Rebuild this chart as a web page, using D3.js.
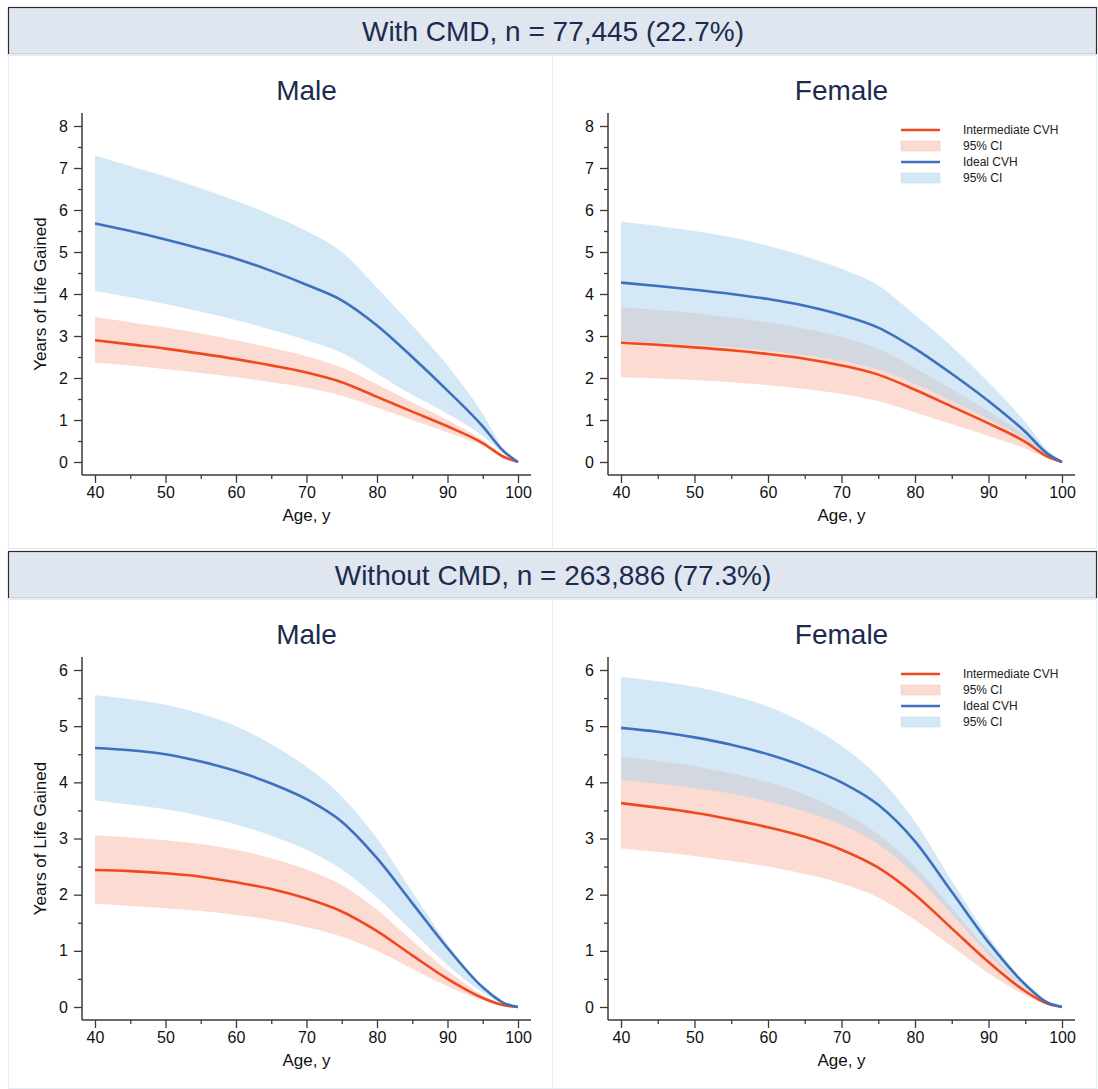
<!DOCTYPE html>
<html>
<head>
<meta charset="utf-8">
<script src="https://cdn.jsdelivr.net/npm/d3@7"></script>
<style>
  body { margin: 0; background: #fff; }
  text { font-family: "Liberation Sans", Arial, sans-serif; }
</style>
</head>
<body>
<div id="chart"></div>
<script>

var ages = [40, 45, 50, 55, 60, 65, 70, 75, 80, 85, 90, 95, 98, 100];

// With CMD - male
var cmdMaleIdeal   = [5.68, 5.50, 5.30, 5.08, 4.84, 4.55, 4.22, 3.85, 3.25, 2.50, 1.70, 0.85, 0.25, 0];
var cmdMaleIdealLo = [4.07, 3.92, 3.76, 3.58, 3.38, 3.15, 2.90, 2.60, 2.10, 1.60, 1.15, 0.62, 0.20, 0];
var cmdMaleIdealHi = [7.30, 7.05, 6.80, 6.52, 6.22, 5.88, 5.50, 5.00, 4.15, 3.25, 2.30, 1.15, 0.30, 0];
var cmdMaleInt     = [2.90, 2.80, 2.70, 2.58, 2.45, 2.30, 2.13, 1.90, 1.55, 1.20, 0.85, 0.45, 0.12, 0];
var cmdMaleIntLo   = [2.37, 2.30, 2.21, 2.12, 2.02, 1.90, 1.77, 1.58, 1.30, 1.00, 0.70, 0.38, 0.10, 0];
var cmdMaleIntHi   = [3.45, 3.33, 3.20, 3.06, 2.90, 2.72, 2.52, 2.25, 1.85, 1.42, 1.00, 0.52, 0.14, 0];

// With CMD - female
var cmdFemIdeal   = [4.27, 4.19, 4.10, 4.00, 3.88, 3.72, 3.50, 3.20, 2.70, 2.10, 1.45, 0.72, 0.20, 0];
var cmdFemIdealLo = [2.88, 2.84, 2.79, 2.73, 2.65, 2.55, 2.41, 2.20, 1.86, 1.45, 1.02, 0.54, 0.15, 0];
var cmdFemIdealHi = [5.72, 5.62, 5.50, 5.35, 5.15, 4.90, 4.60, 4.20, 3.50, 2.75, 1.90, 0.95, 0.28, 0];
var cmdFemInt     = [2.84, 2.79, 2.73, 2.66, 2.57, 2.46, 2.30, 2.08, 1.72, 1.32, 0.92, 0.48, 0.13, 0];
var cmdFemIntLo   = [2.02, 1.99, 1.95, 1.90, 1.83, 1.74, 1.62, 1.45, 1.18, 0.90, 0.62, 0.32, 0.09, 0];
var cmdFemIntHi   = [3.69, 3.62, 3.54, 3.44, 3.32, 3.17, 2.97, 2.69, 2.24, 1.74, 1.21, 0.63, 0.17, 0];

// Without CMD - male
var noMaleIdeal   = [4.61, 4.57, 4.50, 4.37, 4.20, 3.98, 3.70, 3.30, 2.65, 1.85, 1.05, 0.35, 0.07, 0];
var noMaleIdealLo = [3.68, 3.60, 3.52, 3.40, 3.25, 3.05, 2.80, 2.45, 1.95, 1.35, 0.75, 0.26, 0.05, 0];
var noMaleIdealHi = [5.55, 5.48, 5.38, 5.22, 5.00, 4.68, 4.28, 3.75, 3.00, 2.05, 1.12, 0.38, 0.08, 0];
var noMaleInt     = [2.44, 2.42, 2.38, 2.32, 2.22, 2.10, 1.93, 1.70, 1.35, 0.92, 0.50, 0.16, 0.03, 0];
var noMaleIntLo   = [1.84, 1.80, 1.76, 1.71, 1.64, 1.55, 1.42, 1.25, 1.00, 0.68, 0.37, 0.12, 0.02, 0];
var noMaleIntHi   = [3.06, 3.02, 2.97, 2.90, 2.80, 2.65, 2.45, 2.17, 1.73, 1.18, 0.65, 0.21, 0.04, 0];

// Without CMD - female
var noFemIdeal   = [4.97, 4.90, 4.80, 4.67, 4.50, 4.28, 4.00, 3.60, 2.95, 2.05, 1.15, 0.40, 0.08, 0];
var noFemIdealLo = [4.04, 3.98, 3.90, 3.80, 3.66, 3.48, 3.25, 2.90, 2.35, 1.66, 0.94, 0.33, 0.07, 0];
var noFemIdealHi = [5.88, 5.80, 5.70, 5.55, 5.35, 5.05, 4.65, 4.10, 3.30, 2.25, 1.25, 0.44, 0.09, 0];
var noFemInt     = [3.63, 3.55, 3.46, 3.34, 3.20, 3.03, 2.80, 2.48, 2.00, 1.40, 0.80, 0.28, 0.06, 0];
var noFemIntLo   = [2.82, 2.76, 2.69, 2.60, 2.50, 2.37, 2.20, 1.95, 1.55, 1.08, 0.60, 0.21, 0.04, 0];
var noFemIntHi   = [4.45, 4.38, 4.29, 4.16, 4.00, 3.78, 3.48, 3.07, 2.50, 1.76, 1.00, 0.35, 0.07, 0];

// tick values
var xTicks = [40, 50, 60, 70, 80, 90, 100];
var xMinor = [45, 55, 65, 75, 85, 95];
var yTicksTop = [0, 1, 2, 3, 4, 5, 6, 7, 8];
var yTicksBottom = [0, 1, 2, 3, 4, 5, 6];

var groupTitles = ["With CMD, n = 77,445 (22.7%)", "Without CMD, n = 263,886 (77.3%)"];
var legendLabels = ["Intermediate CVH", "95% CI", "Ideal CVH", "95% CI"];

var orangeLine = "#f0481f";
var blueLine = "#3f70be";

var svg = d3.select("#chart").append("svg")
  .attr("width", 1098)
  .attr("height", 1089);

// group headers
var headers = [{y: 7, h: 47}, {y: 551, h: 47}];
headers.forEach(function(hd, i) {
  svg.append("rect")
    .attr("x", 8.5).attr("y", hd.y + 0.5)
    .attr("width", 1088).attr("height", hd.h)
    .attr("fill", "#dfe6f0")
    .attr("stroke", "#2b2b2b")
    .attr("stroke-width", 1.2);
  svg.append("text")
    .attr("x", 553).attr("y", hd.y + 34)
    .attr("text-anchor", "middle")
    .attr("font-size", 28)
    .attr("fill", "#1c2b4d")
    .text(groupTitles[i]);
});

// panel frames
var frames = [
  {x: 8, y: 54, w: 544, h: 494}, {x: 552, y: 54, w: 544, h: 494},
  {x: 8, y: 598, w: 544, h: 490}, {x: 552, y: 598, w: 544, h: 490}
];
frames.forEach(function(f) {
  svg.append("rect")
    .attr("x", f.x + 0.5).attr("y", f.y + 0.5)
    .attr("width", f.w).attr("height", f.h)
    .attr("fill", "none")
    .attr("stroke", "#e3edf2");
});

var panels = [
  {title: "Male", left: 82, right: 531, top: 113, bottom: 475, ymax: 8, yTicks: yTicksTop, ylabel: true, legend: false,
   ideal: cmdMaleIdeal, idealLo: cmdMaleIdealLo, idealHi: cmdMaleIdealHi, inter: cmdMaleInt, interLo: cmdMaleIntLo, interHi: cmdMaleIntHi},
  {title: "Female", left: 608, right: 1075, top: 113, bottom: 475, ymax: 8, yTicks: yTicksTop, ylabel: false, legend: true,
   ideal: cmdFemIdeal, idealLo: cmdFemIdealLo, idealHi: cmdFemIdealHi, inter: cmdFemInt, interLo: cmdFemIntLo, interHi: cmdFemIntHi},
  {title: "Male", left: 82, right: 531, top: 657, bottom: 1020, ymax: 6, yTicks: yTicksBottom, ylabel: true, legend: false,
   ideal: noMaleIdeal, idealLo: noMaleIdealLo, idealHi: noMaleIdealHi, inter: noMaleInt, interLo: noMaleIntLo, interHi: noMaleIntHi},
  {title: "Female", left: 608, right: 1075, top: 657, bottom: 1020, ymax: 6, yTicks: yTicksBottom, ylabel: false, legend: true,
   ideal: noFemIdeal, idealLo: noFemIdealLo, idealHi: noFemIdealHi, inter: noFemInt, interLo: noFemIntLo, interHi: noFemIntHi}
];

var pad = 13;

panels.forEach(function(p) {
  var x = d3.scaleLinear().domain([40, 100]).range([p.left + pad, p.right - pad]);
  var y = d3.scaleLinear().domain([0, p.ymax]).range([p.bottom - pad, p.top + pad]);

  var g = svg.append("g");

  var rows = ages.map(function(a, i) {
    return {age: a, ideal: p.ideal[i], idealLo: p.idealLo[i], idealHi: p.idealHi[i],
            inter: p.inter[i], interLo: p.interLo[i], interHi: p.interHi[i]};
  });

  var curve = d3.curveMonotoneX;
  var areaInt = d3.area().curve(curve).x(d => x(d.age)).y0(d => y(d.interLo)).y1(d => y(d.interHi));
  var areaIdeal = d3.area().curve(curve).x(d => x(d.age)).y0(d => y(d.idealLo)).y1(d => y(d.idealHi));
  var lineInt = d3.line().curve(curve).x(d => x(d.age)).y(d => y(d.inter));
  var lineIdeal = d3.line().curve(curve).x(d => x(d.age)).y(d => y(d.ideal));

  // bands
  g.append("path").datum(rows).attr("d", areaInt)
    .attr("fill", "#f9b9a5").attr("fill-opacity", 0.5);
  g.append("path").datum(rows).attr("d", areaIdeal)
    .attr("fill", "#a9d1eb").attr("fill-opacity", 0.5);

  // lines
  g.append("path").datum(rows).attr("d", lineInt)
    .attr("fill", "none").attr("stroke", orangeLine).attr("stroke-width", 2.6);
  g.append("path").datum(rows).attr("d", lineIdeal)
    .attr("fill", "none").attr("stroke", blueLine).attr("stroke-width", 2.6);

  // x axis, major + minor
  var xAxis = g.append("g")
    .attr("transform", `translate(0, ${p.bottom})`)
    .call(d3.axisBottom(x).tickValues(xTicks).tickSize(8).tickPadding(4));
  g.append("g")
    .attr("transform", `translate(0, ${p.bottom})`)
    .call(d3.axisBottom(x).tickValues(xMinor).tickSize(4).tickFormat(""))
    .call(s => s.select(".domain").remove());

  // y axis, major + minor
  var yAxis = g.append("g")
    .attr("transform", `translate(${p.left}, 0)`)
    .call(d3.axisLeft(y).tickValues(p.yTicks).tickFormat(d3.format("d")).tickSize(8).tickPadding(6));
  g.append("g")
    .attr("transform", `translate(${p.left}, 0)`)
    .call(d3.axisLeft(y).tickValues(p.yTicks.slice(1).map(v => v - 0.5)).tickSize(4).tickFormat(""))
    .call(s => s.select(".domain").remove());

  // own axis lines, running into the padding
  xAxis.select(".domain").remove();
  yAxis.select(".domain").remove();
  g.append("line")
    .attr("x1", p.left).attr("x2", p.right)
    .attr("y1", p.bottom).attr("y2", p.bottom)
    .attr("stroke", "#3a3a3a").attr("stroke-width", 1.5);
  g.append("line")
    .attr("x1", p.left).attr("x2", p.left)
    .attr("y1", p.top).attr("y2", p.bottom)
    .attr("stroke", "#3a3a3a").attr("stroke-width", 1.5);

  g.selectAll(".tick line").attr("stroke", "#3a3a3a").attr("stroke-width", 1.3);
  g.selectAll(".tick text")
    .attr("font-size", 16)
    .attr("font-family", "'Liberation Sans', Arial, sans-serif")
    .attr("fill", "#111");

  var cx = (x.range()[0] + x.range()[1]) / 2;

  // panel title
  g.append("text")
    .attr("x", cx).attr("y", p.top - 13)
    .attr("text-anchor", "middle")
    .attr("font-size", 28)
    .attr("fill", "#1c2b4d")
    .text(p.title);

  // x title
  g.append("text")
    .attr("x", cx).attr("y", p.bottom + 46)
    .attr("text-anchor", "middle")
    .attr("font-size", 17)
    .attr("fill", "#111")
    .text("Age, y");

  if (p.ylabel) {
    var cy = (y.range()[0] + y.range()[1]) / 2;
    g.append("text")
      .attr("transform", `translate(46, ${cy}) rotate(-90)`)
      .attr("text-anchor", "middle")
      .attr("font-size", 17)
      .attr("fill", "#111")
      .text("Years of Life Gained");
  }

  if (p.legend) {
    var lg = g.append("g").attr("transform", `translate(901, ${p.top + 17})`);
    legendLabels.forEach(function(lab, i) {
      var ry = i * 16;
      if (i % 2 === 0) {
        lg.append("line")
          .attr("x1", 0).attr("x2", 39)
          .attr("y1", ry).attr("y2", ry)
          .attr("stroke", i === 0 ? orangeLine : blueLine)
          .attr("stroke-width", 2.6);
      } else {
        lg.append("rect")
          .attr("x", 0).attr("y", ry - 5)
          .attr("width", 39).attr("height", 10)
          .attr("fill", i === 1 ? "#fcdcd2" : "#d4e8f5")
          .attr("stroke", i === 1 ? "#f6cbbd" : "#c4dff0")
          .attr("stroke-width", 0.6);
      }
      lg.append("text")
        .attr("x", 62).attr("y", ry + 4)
        .attr("font-size", 12)
        .attr("fill", "#222")
        .text(lab);
    });
  }
});

</script>
</body>
</html>
